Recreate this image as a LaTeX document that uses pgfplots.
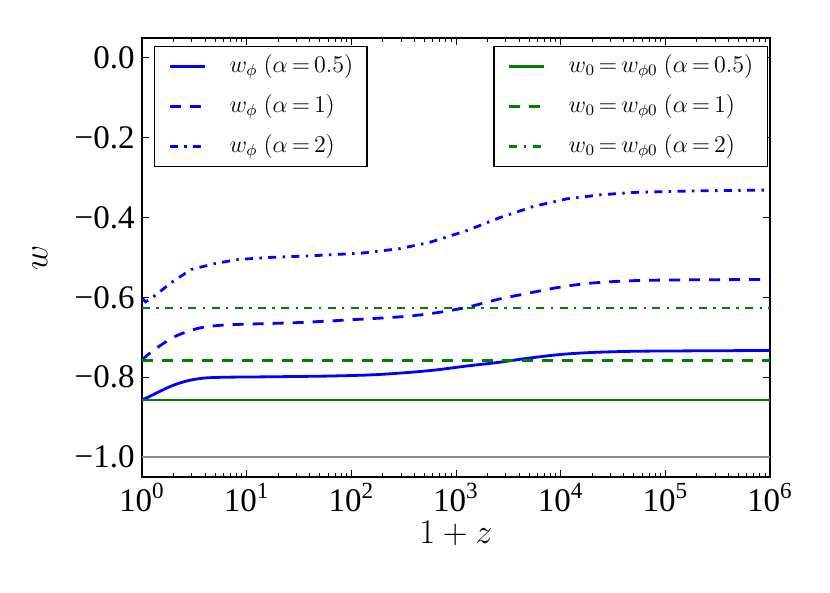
\documentclass[border=0pt]{standalone}
\usepackage{pgfplots}
\pgfplotsset{compat=1.18}
\usepackage{fontspec}
\setmainfont{Liberation Serif}
\definecolor{mplblue}{rgb}{0,0,1}
\definecolor{mplgreen}{rgb}{0,0.5,0}
\definecolor{mplgray}{rgb}{0.55,0.55,0.55}
\tikzset{dashedA/.style={dash pattern=on 5.5pt off 4.5pt},
  dashdotA/.style={dash pattern=on 4pt off 3.2pt on 1.2pt off 3.2pt}}
\newcommand{\eq}{\mathrel{\mkern-2mu=\mkern-2mu}}
\newcommand{\tl}{\fontsize{16.5}{19}\selectfont}
\begin{document}
\begin{tikzpicture}
\begin{axis}[name=ax, at={(0,0)}, anchor=south west, scale only axis,
  width=314pt, height=219.5pt, xmode=log, xmin=1, xmax=1e6,
  ymin=-1.05, ymax=0.05,
  legend style={draw=black, line width=0.75pt, fill=white,
    font=\fontsize{12}{14}\selectfont, inner xsep=7pt, inner ysep=4.25pt,
    row sep=8.5pt, column sep=12pt, cells={anchor=west},
    nodes={inner sep=0pt, text height=8.5pt, text depth=3pt},
    at={(0.019,0.982)}, anchor=north west},
  axis line style={line width=0.8pt},
  xtick={1,10,100,1000,10000,100000,1000000},
  xticklabels={\tl 10\textsuperscript{0},\tl 10\textsuperscript{1},\tl 10\textsuperscript{2},\tl 10\textsuperscript{3},\tl 10\textsuperscript{4},\tl 10\textsuperscript{5},\tl 10\textsuperscript{6}},
  ytick={-1,-0.8,-0.6,-0.4,-0.2,0},
  yticklabels={\tl −1.0,\tl −0.8,\tl −0.6,\tl −0.4,\tl −0.2,\tl 0.0},
  xticklabel style={inner sep=0pt, yshift=-3pt},
  yticklabel style={inner sep=0pt, xshift=-3.5pt},
  major tick length=3.5pt, minor tick length=2pt,
  tick style={line width=0.5pt, black},
  xlabel={$1+z$}, ylabel={$w$},
  label style={font=\fontsize{16}{19}\selectfont},
  xlabel style={at={(axis description cs:0.5,-0.128)}, anchor=center},
  ylabel style={at={(axis description cs:-0.1624,0.5)}, anchor=center},
]
\addplot[mplgray, line width=0.6pt, forget plot] coordinates {(1,-1) (1e6,-1)};
\addplot[mplblue, line width=1.4pt, smooth] coordinates {
(1,-0.857) (1.122,-0.851) (1.413,-0.838) (1.995,-0.820) (2.818,-0.808)
(3.981,-0.802) (6.310,-0.800) (15.85,-0.799) (63.10,-0.797) (158.5,-0.794)
(316.2,-0.789) (631.0,-0.782) (1259,-0.772) (2512,-0.763) (5012,-0.752)
(10000,-0.743) (19953,-0.738) (50119,-0.735) (158489,-0.734) (1000000,-0.733)};
\addlegendentry{$w_\phi\ (\alpha\eq 0.5)$}
\addplot[mplblue, line width=1.4pt, dashedA, smooth] coordinates {
(1,-0.757) (1.122,-0.745) (1.413,-0.725) (1.995,-0.700) (2.818,-0.684)
(3.981,-0.674) (6.310,-0.669) (10,-0.667) (31.62,-0.663) (100,-0.656)
(316.2,-0.648) (631.0,-0.639) (1259,-0.625) (2512,-0.605) (5012,-0.589)
(10000,-0.574) (19953,-0.564) (50119,-0.558) (158489,-0.556) (1000000,-0.555)};
\addlegendentry{$w_\phi\ (\alpha\eq 1)$}
\addplot[mplblue, line width=1.4pt, dashdotA] coordinates {
(1,-0.602) (1.084,-0.611) (1.202,-0.604) (1.349,-0.594) (1.905,-0.563)
(2.951,-0.530) (5.012,-0.515) (8.318,-0.505) (15.85,-0.500) (39.81,-0.496)
(125.9,-0.489) (288.4,-0.478) (562.3,-0.462) (1259,-0.433) (2630,-0.400)
(5495,-0.372) (11482,-0.353) (23988,-0.343) (48978,-0.337) (199526,-0.333)
(1000000,-0.331)};
\addlegendentry{$w_\phi\ (\alpha\eq 2)$}
\end{axis}
\begin{axis}[at={(0,0)}, anchor=south west, scale only axis,
  width=314pt, height=219.5pt, xmode=log, xmin=1, xmax=1e6,
  ymin=-1.05, ymax=0.05, hide axis,
  legend style={draw=black, line width=0.75pt, fill=white,
    font=\fontsize{12}{14}\selectfont, inner xsep=7pt, inner ysep=4.25pt,
    row sep=8.5pt, column sep=12pt, cells={anchor=west},
    nodes={inner sep=0pt, text height=8.5pt, text depth=3pt},
    at={(0.997,0.982)}, anchor=north east}]
\addplot[mplgreen, line width=1.2pt] coordinates {(1,-0.857) (1e6,-0.857)};
\addlegendentry{$w_0\eq w_{\phi0}\ (\alpha\eq 0.5)$}
\addplot[mplgreen, line width=1.2pt, dashedA] coordinates {(1,-0.758) (1e6,-0.758)};
\addlegendentry{$w_0\eq w_{\phi0}\ (\alpha\eq 1)$}
\addplot[mplgreen, line width=1.2pt, dashdotA] coordinates {(1,-0.627) (1e6,-0.627)};
\addlegendentry{$w_0\eq w_{\phi0}\ (\alpha\eq 2)$}
\end{axis}
\path ([xshift=-71pt,yshift=-58pt]ax.south west) rectangle ([xshift=30pt,yshift=19pt]ax.north east);
\end{tikzpicture}
\end{document}
